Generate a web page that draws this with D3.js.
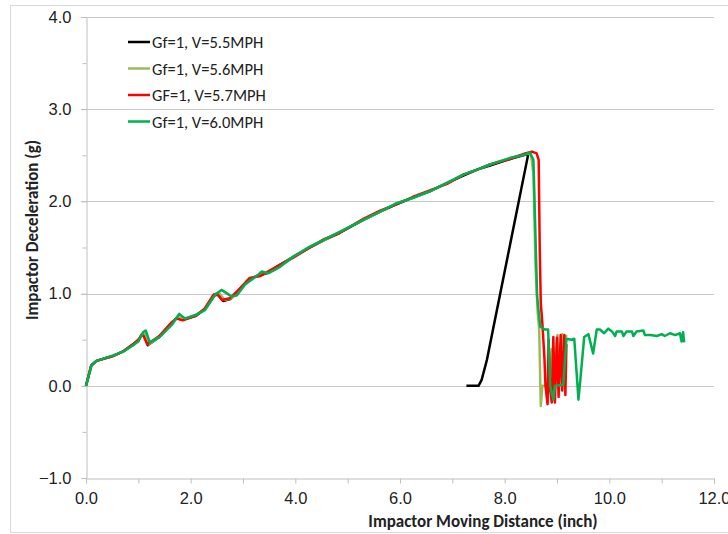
<!DOCTYPE html>
<html>
<head>
<meta charset="utf-8">
<script src="https://cdn.jsdelivr.net/npm/d3@7"></script>
<style>
  body { margin: 0; background: #fff; }
  svg { font-family: Carlito, "Liberation Sans", Arial, sans-serif; }
</style>
</head>
<body>
<div id="graph"></div>
<script>
// chart values
const legendLabels = ["Gf=1, V=5.5MPH", "Gf=1, V=5.6MPH", "GF=1, V=5.7MPH", "Gf=1, V=6.0MPH"];
const seriesColors = ["#000000", "#9bbb59", "#ff0000", "#00b050"];
const xTicks = [0, 2, 4, 6, 8, 10, 12];
const yTicks = [-1, 0, 1, 2, 3, 4];

// [distance (inch), deceleration (g)]
const v55 = [[0,0],[0.1,0.22],[0.2,0.27],[0.5,0.32],[0.7,0.37],[0.9,0.45],[1.0,0.49],[1.07,0.56],[1.12,0.55],[1.18,0.44],[1.4,0.53],[1.64,0.68],[1.74,0.74],[1.86,0.72],[2.1,0.76],[2.27,0.83],[2.45,0.98],[2.52,0.99],[2.62,0.92],[2.76,0.94],[2.88,1.01],[3.1,1.15],[3.3,1.2],[3.45,1.22],[3.64,1.29],[3.96,1.4],[4.28,1.5],[4.55,1.58],[4.85,1.66],[5.3,1.8],[5.62,1.89],[5.94,1.97],[6.25,2.04],[6.57,2.11],[6.9,2.2],[7.21,2.28],[7.5,2.35],[7.72,2.39],[8.1,2.46],[8.35,2.5],[8.45,2.51],[7.66,0.28],[7.56,0.065],[7.5,0],[7.27,0]];
const v56 = [[0,0],[0.1,0.22],[0.2,0.27],[0.5,0.32],[0.7,0.37],[0.9,0.44],[1.0,0.49],[1.08,0.56],[1.13,0.56],[1.2,0.45],[1.4,0.53],[1.64,0.68],[1.75,0.75],[1.87,0.72],[2.1,0.77],[2.27,0.83],[2.46,0.99],[2.55,1.0],[2.65,0.93],[2.78,0.95],[2.9,1.02],[3.12,1.16],[3.32,1.2],[3.46,1.23],[3.66,1.29],[3.96,1.4],[4.28,1.51],[4.55,1.58],[4.85,1.67],[5.3,1.8],[5.62,1.89],[5.94,1.98],[6.25,2.04],[6.57,2.11],[6.9,2.2],[7.21,2.29],[7.5,2.35],[7.72,2.4],[8.1,2.47],[8.39,2.51],[8.5,2.52],[8.55,2.3],[8.59,1.3],[8.63,0.8],[8.66,0.6],[8.69,-0.22],[8.72,0.0],[8.86,0.0],[8.9,0.4],[8.93,0.0],[9.01,0.55],[9.04,0.0],[9.1,0.56],[9.13,0.0],[9.16,0.53],[9.19,0.55]];
const v57 = [[0,0],[0.1,0.22],[0.2,0.27],[0.5,0.32],[0.7,0.37],[0.9,0.45],[1.0,0.5],[1.06,0.55],[1.1,0.54],[1.17,0.45],[1.4,0.54],[1.64,0.69],[1.73,0.73],[1.85,0.71],[2.1,0.76],[2.27,0.84],[2.44,0.99],[2.5,1.0],[2.6,0.93],[2.75,0.95],[2.88,1.02],[3.13,1.17],[3.33,1.19],[3.45,1.23],[3.64,1.29],[3.96,1.39],[4.28,1.5],[4.55,1.59],[4.85,1.66],[5.3,1.81],[5.62,1.9],[5.94,1.97],[6.25,2.05],[6.57,2.12],[6.9,2.19],[7.21,2.29],[7.5,2.35],[7.72,2.4],[8.1,2.46],[8.39,2.52],[8.52,2.54],[8.61,2.52],[8.65,2.45],[8.67,1.5],[8.69,0.9],[8.72,0.68],[8.76,0.3],[8.78,0.0],[8.82,-0.2],[8.84,0.5],[8.87,-0.05],[8.9,-0.18],[8.93,0.53],[8.96,-0.18],[9.0,0.52],[9.03,-0.12],[9.07,0.55],[9.1,-0.05],[9.14,0.55],[9.16,-0.1],[9.18,0.45]];
const v60 = [[0,0],[0.11,0.23],[0.2,0.27],[0.52,0.33],[0.71,0.37],[0.9,0.44],[1.0,0.48],[1.09,0.58],[1.14,0.6],[1.22,0.47],[1.41,0.53],[1.64,0.66],[1.78,0.78],[1.89,0.73],[2.11,0.77],[2.27,0.82],[2.47,0.99],[2.59,1.04],[2.78,0.97],[2.88,0.98],[3.04,1.1],[3.26,1.19],[3.36,1.24],[3.48,1.22],[3.71,1.29],[3.96,1.4],[4.28,1.51],[4.53,1.58],[4.85,1.67],[5.3,1.8],[5.62,1.89],[5.94,1.98],[6.25,2.04],[6.57,2.11],[6.9,2.2],[7.21,2.29],[7.5,2.35],[7.72,2.4],[8.1,2.47],[8.39,2.51],[8.48,2.53],[8.55,2.45],[8.58,1.8],[8.62,0.97],[8.68,0.64],[8.77,0.61],[8.83,0.61],[8.87,0],[8.93,-0.15],[8.96,0],[9.12,0.01],[9.18,0.51],[9.28,0.5],[9.33,0.51],[9.41,-0.15],[9.44,0.03],[9.52,0.53],[9.6,0.56],[9.69,0.35],[9.76,0.61],[9.82,0.61],[9.9,0.57],[9.98,0.62],[10.05,0.59],[10.11,0.54],[10.14,0.59],[10.24,0.59],[10.27,0.54],[10.33,0.59],[10.43,0.59],[10.46,0.54],[10.52,0.59],[10.65,0.6],[10.68,0.55],[10.78,0.55],[10.91,0.54],[11.0,0.56],[11.06,0.54],[11.16,0.57],[11.26,0.55],[11.35,0.57],[11.38,0.48],[11.41,0.58],[11.43,0.47]];

const allSeries = [v55, v56, v57, v60];

const width = 728;
const height = 534;
const margin = {top: 17, right: 14, bottom: 56, left: 86};

const svg = d3.select("#graph")
    .append("svg")
        .attr("width", width)
        .attr("height", height);

// outer chart border
svg.append("rect")
    .attr("x", 10.5).attr("y", 5.5)
    .attr("width", 740).attr("height", 527)
    .attr("fill", "none")
    .attr("stroke", "#d9d9d9");

const x = d3.scaleLinear().domain([0, 12]).range([margin.left, width - margin.right]);
const y = d3.scaleLinear().domain([-1, 4]).range([height - margin.bottom, margin.top]);

// gridlines
svg.append("g")
    .selectAll("line")
    .data(yTicks.filter(d => d > -1))
    .join("line")
        .attr("x1", x(0) - 5).attr("x2", x(12))
        .attr("y1", d => Math.round(y(d)) + 0.5)
        .attr("y2", d => Math.round(y(d)) + 0.5)
        .attr("stroke", "#c8c8c8");

// y axis
svg.append("g")
    .attr("transform", `translate(${x(0) + 0.5},0)`)
    .call(d3.axisLeft(y).tickValues(yTicks).tickFormat(d3.format(".1f")).tickSize(5).tickPadding(10));
svg.append("g")
    .attr("transform", `translate(${x(0) + 0.5},0)`)
    .call(d3.axisLeft(y).tickValues(d3.range(-0.5, 4, 1)).tickFormat("").tickSize(4))
    .call(g => g.select(".domain").remove());

// x axis
svg.append("g")
    .attr("transform", `translate(0,${Math.round(y(-1)) + 0.5})`)
    .call(d3.axisBottom(x).tickValues(xTicks).tickFormat(d3.format(".1f")).tickSize(5).tickPadding(9));
svg.append("g")
    .attr("transform", `translate(0,${Math.round(y(-1)) + 0.5})`)
    .call(d3.axisBottom(x).tickValues(d3.range(1, 12, 2)).tickFormat("").tickSize(5))
    .call(g => g.select(".domain").remove());

svg.selectAll(".domain, .tick line").attr("stroke", "#bfbfbf");
svg.selectAll(".tick text")
    .attr("fill", "#222")
    .style("font-size", "16.5px")
    .style("font-family", null);

// axis titles
svg.append("text")
    .attr("x", 483).attr("y", 527)
    .attr("text-anchor", "middle")
    .attr("font-weight", "bold")
    .attr("font-size", 17)
    .attr("fill", "#222")
    .text("Impactor Moving Distance (inch)");

svg.append("text")
    .attr("transform", "translate(38,230) rotate(-90)")
    .attr("text-anchor", "middle")
    .attr("font-weight", "bold")
    .attr("font-size", 17)
    .attr("fill", "#222")
    .text("Impactor Deceleration (g)");

// series lines
const line = d3.line()
    .x(d => x(d[0]))
    .y(d => y(d[1]));

svg.append("g")
    .selectAll("path")
    .data(allSeries)
    .join("path")
        .attr("d", line)
        .attr("fill", "none")
        .attr("stroke", (d, i) => seriesColors[i])
        .attr("stroke-width", 2.5)
        .attr("stroke-linejoin", "round");

// legend
const legend = svg.append("g")
    .selectAll("g")
    .data(legendLabels)
    .join("g")
        .attr("transform", (d, i) => `translate(128,${42 + i * 26.5})`);

legend.append("line")
    .attr("x1", 0).attr("x2", 22)
    .attr("stroke", (d, i) => seriesColors[i])
    .attr("stroke-width", 2.5);

legend.append("text")
    .attr("x", 24).attr("y", 6)
    .attr("font-size", 16.5)
    .attr("fill", "#222")
    .text(d => d);
</script>
</body>
</html>
